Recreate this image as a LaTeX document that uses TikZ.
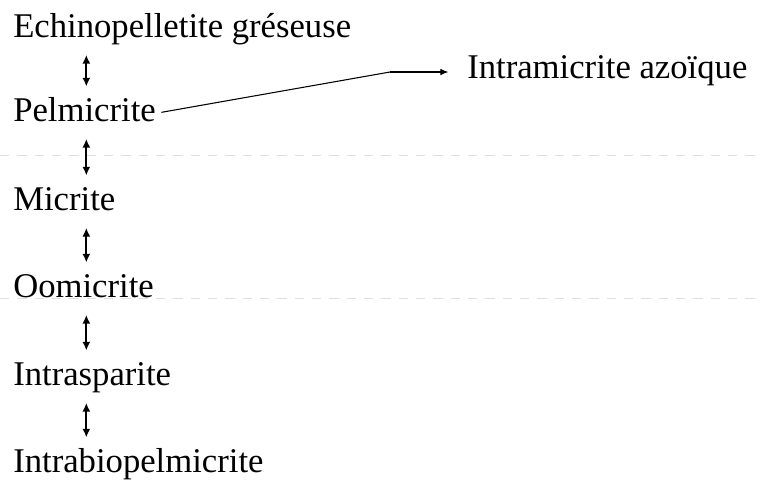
\documentclass[tikz,border=0pt]{standalone}
\usepackage{fontspec}
\setmainfont{Liberation Serif}
\usetikzlibrary{arrows.meta}
\tikzset{
    updown/.style={{Latex[length=6.5pt,width=6pt]}-{Latex[length=6.5pt,width=6pt]}, line width=1.3pt, shorten >=7.5pt, shorten <=7.5pt},
    scanline/.style={gray!25, line width=0.6pt, dash pattern=on 7pt off 6pt}
}
\begin{document}
\begin{tikzpicture}[x=0.75pt, y=-0.75pt]
        \useasboundingbox (0,0) rectangle (763,480);
        % faint lines of the scanned page
        \draw[scanline] (0,155) -- (763,155);
        \draw[scanline] (0,298) -- (763,298);
        \begin{scope}[every node/.style={anchor=base west, inner sep=0pt, font=\fontsize{26}{30}\selectfont, text height=18.2pt, text depth=5.7pt}]
            \node (echino) at (13,37) {Echinopelletite gréseuse};
            \node (pelmi) at (13,121) {Pelmicrite};
            \node (micri) at (13,210) {Micrite};
            \node (oomi) at (13,297) {Oomicrite};
            \node (intras) at (13,385) {Intrasparite};
            \node (intrab) at (13,472) {Intrabiopelmicrite};
            \node (azo) at (467,78) {Intramicrite azoïque};
        \end{scope}
        \coordinate (bend) at (390,72);
        \draw[updown] ([xshift=55pt]echino.south west) -- ([xshift=55pt]pelmi.north west);
        \draw[updown] ([xshift=55pt]pelmi.south west) -- ([xshift=55pt]micri.north west);
        \draw[updown] ([xshift=55pt]micri.south west) -- ([xshift=55pt]oomi.north west);
        \draw[updown] ([xshift=55pt]oomi.south west) -- ([xshift=55pt]intras.north west);
        \draw[updown] ([xshift=55pt]intras.south west) -- ([xshift=55pt]intrab.north west);
        \draw[line width=0.8pt] ([xshift=4pt, yshift=6.5pt]pelmi.base east) -- (bend);
        \draw[-{Latex[length=6pt,width=5pt]}, line width=0.8pt, shorten >=14pt] (bend) -- (bend -| azo.west);
    \end{tikzpicture}
\end{document}
